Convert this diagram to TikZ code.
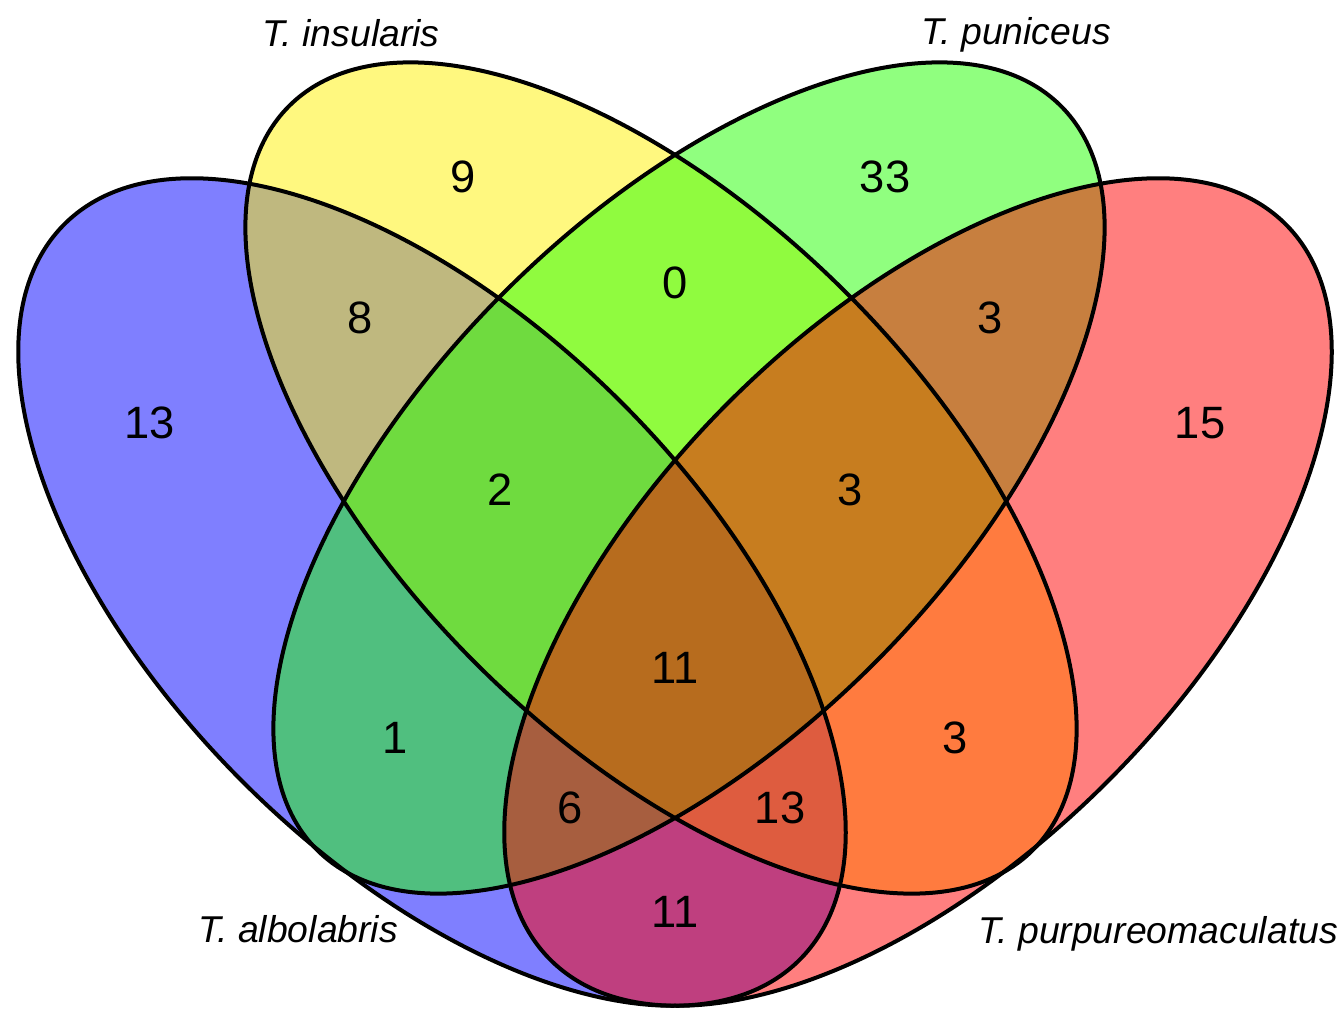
\documentclass[tikz,border=0pt]{standalone}
\usepackage{fontspec}
\setmainfont{Liberation Sans}
\definecolor{setgreen}{RGB}{33,255,0}
\begin{document}
\begin{tikzpicture}[x=0.75pt,y=-0.75pt,
  setfill/.style={fill opacity=0.5},
  outline/.style={draw=black, line width=3pt},
  num/.style={font=\fontsize{34}{36}\selectfont, inner sep=0pt},
  lab/.style={font=\fontsize{28}{30}\selectfont\itshape, inner sep=0pt, anchor=base}]
\useasboundingbox (0,0) rectangle (1344,1010);
% fills (drawn in order, 50% opacity)
\fill[blue,     setfill, rotate around={-45:(432,592)}] (432,592) ellipse [x radius=390pt, y radius=201pt];
\fill[yellow,   setfill, rotate around={-45:(661,478)}] (661,478) ellipse [x radius=394.5pt, y radius=196.5pt];
\fill[setgreen, setfill, rotate around={45:(689,478)}]  (689,478) ellipse [x radius=394.5pt, y radius=196.5pt];
\fill[red,      setfill, rotate around={45:(918,592)}]  (918,592) ellipse [x radius=390pt, y radius=201pt];
% outlines
\draw[outline, rotate around={-45:(432,592)}] (432,592) ellipse [x radius=390pt, y radius=201pt];
\draw[outline, rotate around={-45:(661,478)}] (661,478) ellipse [x radius=394.5pt, y radius=196.5pt];
\draw[outline, rotate around={45:(689,478)}]  (689,478) ellipse [x radius=394.5pt, y radius=196.5pt];
\draw[outline, rotate around={45:(918,592)}]  (918,592) ellipse [x radius=390pt, y radius=201pt];
% counts
\node[num] (nA)    at (150,423) {13};
\node[num] (nB)    at (463,177) {9};
\node[num] (nC)    at (885,177) {33};
\node[num] (nD)    at (1200,423) {15};
\node[num] (nAB)   at (360,318) {8};
\node[num] (nBC)   at (675,283) {0};
\node[num] (nCD)   at (990,318) {3};
\node[num] (nABC)  at (500,490) {2};
\node[num] (nBCD)  at (850,490) {3};
\node[num] (nAC)   at (395,738) {1};
\node[num] (nBD)   at (955,738) {3};
\node[num] (nABCD) at (675,668) {11};
\node[num] (nACD)  at (570,808) {6};
\node[num] (nABD)  at (780,808) {13};
\node[num] (nAD)   at (675,912) {11};
% set labels
\node[lab] (lins) at (351,46) {T. insularis};
\node[lab] (lpun) at (1016,44) {T. puniceus};
\node[lab] (lalb) at (298,942) {T. albolabris};
\node[lab] (lpur) at (1158,943) {T. purpureomaculatus};
\end{tikzpicture}
\end{document}
